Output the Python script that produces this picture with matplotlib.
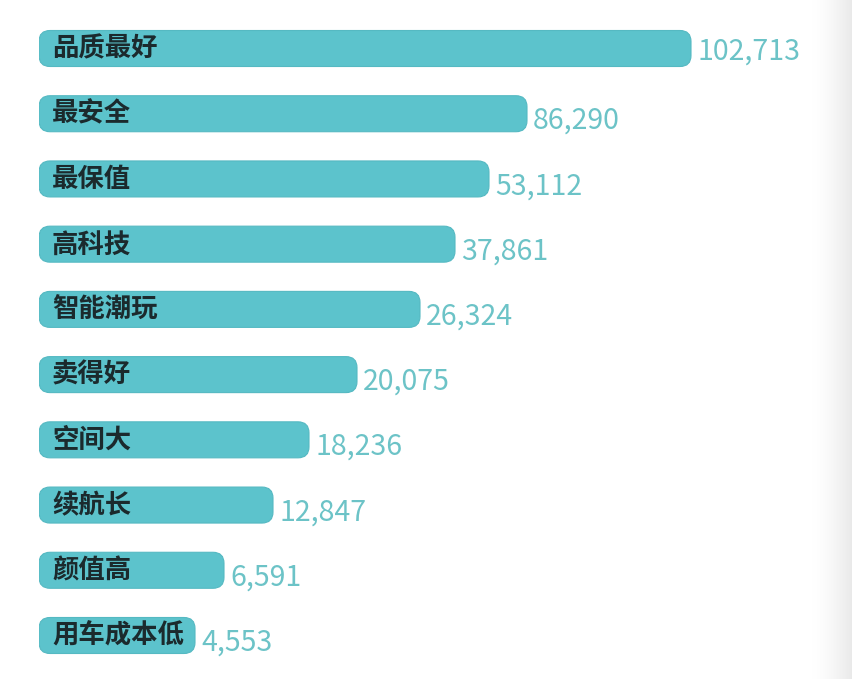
import matplotlib
matplotlib.use("Agg")
import matplotlib.pyplot as plt
from matplotlib.patches import FancyBboxPatch
import numpy as np

plt.rcParams['font.family'] = ['Noto Sans CJK SC', 'DejaVu Sans']

categories = ["品质最好", "最安全", "最保值", "高科技", "智能潮玩",
              "卖得好", "空间大", "续航长", "颜值高", "用车成本低"]
values = [102713, 86290, 53112, 37861, 26324, 20075, 18236, 12847, 6591, 4553]
# visual bar lengths as drawn in the infographic (not proportional to values)
bar_lengths = [652, 488, 450, 416, 381, 318, 270, 234, 185, 156]

W, H = 852, 679
fig = plt.figure(figsize=(W / 100, H / 100), dpi=100)
fig.patch.set_facecolor("white")

# subtle grey shading on the right edge
gax = fig.add_axes([812 / W, 0, (W - 812) / W, 1])
grad = np.linspace(0, 1, 200) ** 1.5
gimg = np.ones((2, 200, 3))
for c in range(3):
    gimg[:, :, c] = 1 - grad * (1 - 0.915)
gax.imshow(gimg, aspect="auto", extent=[0, 1, 0, 1])
gax.axis("off")

left_px = 39
ax = fig.add_axes([left_px / W, 0, (W - left_px) / W, 1])
ax.set_xlim(0, W - left_px)
px_per_unit = 65.22
ax.set_ylim(9 + 43.5 / px_per_unit, -48.5 / px_per_unit)
ax.axis("off")
ax.patch.set_alpha(0)

bar_h = 36 / px_per_unit
for i, (cat, val, ln) in enumerate(zip(categories, values, bar_lengths)):
    p = FancyBboxPatch((0, i - bar_h / 2), ln, bar_h,
                       boxstyle="round,pad=0,rounding_size=11",
                       mutation_aspect=1 / px_per_unit,
                       facecolor="#5cc3cc", edgecolor="#55b9c2", linewidth=0.8)
    ax.add_patch(p)
    ax.text(13, i + 0.01, cat, ha="left", va="center", fontsize=19,
            fontweight="bold", color="#1b2a2d")
    dy = 0.04 if i == 0 else 0.11
    ax.text(ln + 6, i + dy, f"{val:,}", ha="left", va="center",
            fontsize=20.5, color="#6cc3c7")

fig.savefig("out.png", dpi=100, facecolor="white")
